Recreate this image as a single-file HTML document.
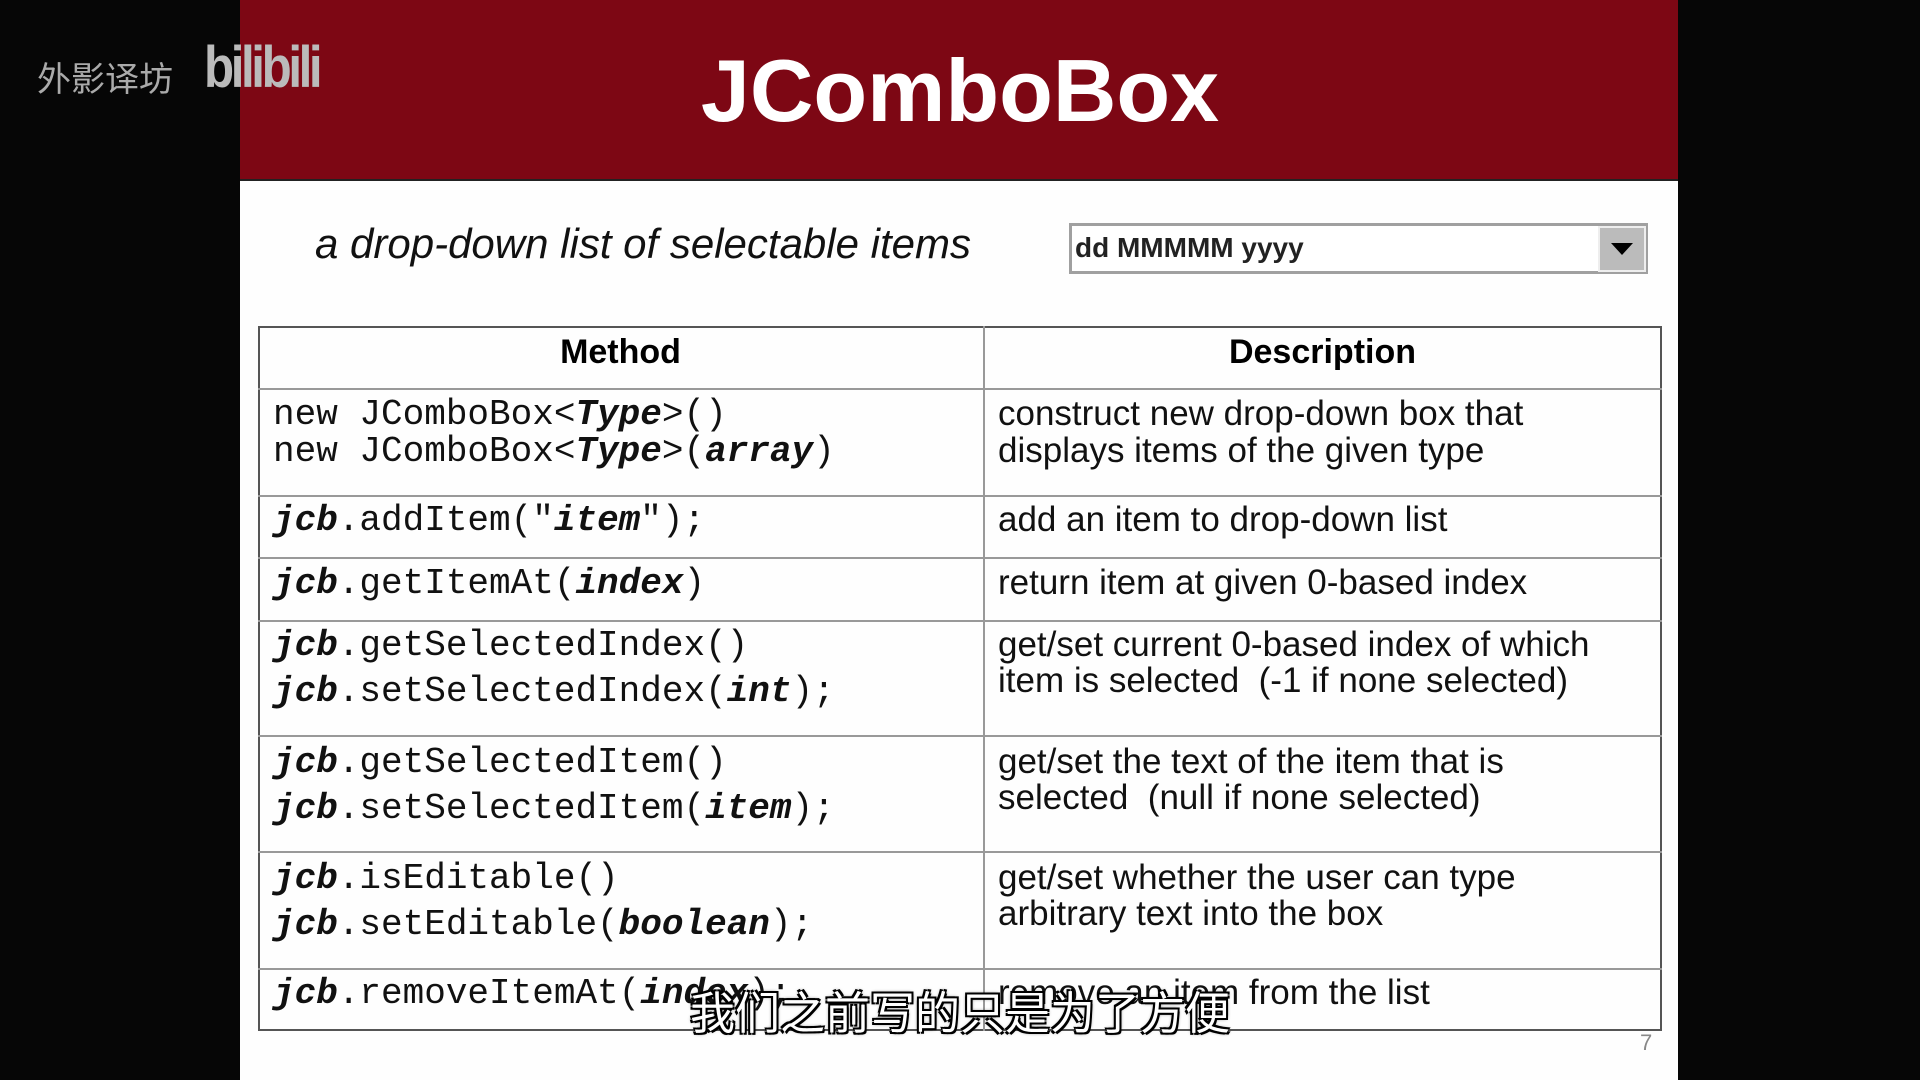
<!DOCTYPE html>
<html><head><meta charset="utf-8"><style>
*{margin:0;padding:0;box-sizing:border-box}
body{width:1920px;height:1080px;background:#060606;position:relative;overflow:hidden;font-family:"Liberation Sans",sans-serif}
.slide{position:absolute;left:240px;top:0;width:1438px;height:1080px;background:#fefefe}
.banner{position:absolute;left:240px;top:0;width:1438px;height:181px;background:#7d0714;border-bottom:2px solid #222}
.t{position:absolute;white-space:nowrap}
.h{position:absolute;background:#999;height:2px;left:258px;width:1404px}
.code{font-family:"Liberation Mono",monospace;font-size:36px;color:#111}
.code b,.code i{font-style:italic;font-weight:bold}
.d{font-size:35px;color:#111;left:998px}
</style></head><body>
<div class="slide"></div>
<div class="banner"></div>
<div class="t" style="left:37px;top:52px;font-size:34px;color:#aaa;font-family:'Liberation Sans','Noto Sans CJK SC',sans-serif">外影译坊</div>
<div class="t" style="left:204px;top:34px;font-size:58px;color:#bbb;font-weight:bold;letter-spacing:-4px;transform:scaleX(0.85);transform-origin:left">bilibili</div>
<div class="t" style="left:0;width:1920px;text-align:center;top:40px;font-size:88px;font-weight:bold;color:#fff">JComboBox</div>
<div class="t" style="left:315px;top:220px;font-size:42px;font-style:italic;color:#111">a drop-down list of selectable items</div>
<div style="position:absolute;left:1069px;top:223px;width:579px;height:51px;border:3px solid #a0a0a0;background:#fff"></div>
<div style="position:absolute;left:1598px;top:226px;width:48px;height:46px;background:#bbb;border:2px solid #eee"></div>
<div style="position:absolute;left:1611px;top:243px;width:0;height:0;border-left:11px solid transparent;border-right:11px solid transparent;border-top:12px solid #000"></div>
<div class="t" style="left:1075px;top:230px;font-size:28px;font-weight:bold;color:#222;line-height:36px">dd MMMMM yyyy</div>
<div style="position:absolute;left:258px;top:326px;width:1404px;height:705px;border:2px solid #555"></div>
<div style="position:absolute;left:983px;top:326px;width:2px;height:705px;background:#999"></div>
<div class="h" style="top:388px"></div><div class="h" style="top:495px"></div><div class="h" style="top:557px"></div><div class="h" style="top:620px"></div><div class="h" style="top:735px"></div><div class="h" style="top:851px"></div><div class="h" style="top:968px"></div>
<div class="t" style="left:258px;width:725px;text-align:center;top:332px;font-size:34px;font-weight:bold;line-height:40px">Method</div>
<div class="t" style="left:983px;width:679px;text-align:center;top:332px;font-size:34px;font-weight:bold;line-height:40px">Description</div>
<div class="t code" style="left:273px;top:396px;line-height:37px">new JComboBox&lt;<b>Type</b>&gt;()<br>new JComboBox&lt;<b>Type</b>&gt;(<b>array</b>)</div>
<div class="t d" style="top:395px;line-height:37px">construct new drop-down box that<br>displays items of the given type</div>
<div class="t code" style="left:273px;top:501px;line-height:40px"><b>jcb</b>.addItem("<b>item</b>");</div>
<div class="t d" style="top:500px;line-height:40px">add an item to drop-down list</div>
<div class="t code" style="left:273px;top:564px;line-height:40px"><b>jcb</b>.getItemAt(<b>index</b>)</div>
<div class="t d" style="top:563px;line-height:40px">return item at given 0-based index</div>
<div class="t code" style="left:273px;top:623px;line-height:46px"><b>jcb</b>.getSelectedIndex()<br><b>jcb</b>.setSelectedIndex(<b>int</b>);</div>
<div class="t d" style="top:627px;line-height:36px">get/set current 0-based index of which<br>item is selected&nbsp; (-1 if none selected)</div>
<div class="t code" style="left:273px;top:740px;line-height:46px"><b>jcb</b>.getSelectedItem()<br><b>jcb</b>.setSelectedItem(<b>item</b>);</div>
<div class="t d" style="top:744px;line-height:36px">get/set the text of the item that is<br>selected&nbsp; (null if none selected)</div>
<div class="t code" style="left:273px;top:856px;line-height:46px"><b>jcb</b>.isEditable()<br><b>jcb</b>.setEditable(<b>boolean</b>);</div>
<div class="t d" style="top:860px;line-height:36px">get/set whether the user can type<br>arbitrary text into the box</div>
<div class="t code" style="left:273px;top:974px;line-height:40px"><b>jcb</b>.removeItemAt(<b>index</b>);</div>
<div class="t d" style="top:973px;line-height:40px">remove an item from the list</div>
<div class="t" style="left:0;width:1920px;text-align:center;top:988px;font-size:45px;line-height:52px;color:#fff;font-family:'Liberation Sans','Noto Sans CJK SC',sans-serif;text-shadow:-2px -2px 0 #000,2px -2px 0 #000,-2px 2px 0 #000,2px 2px 0 #000,0 0 4px #000">我们之前写的只是为了方便</div>
<div class="t" style="left:1640px;top:1030px;font-size:22px;color:#888">7</div>
</body></html>
